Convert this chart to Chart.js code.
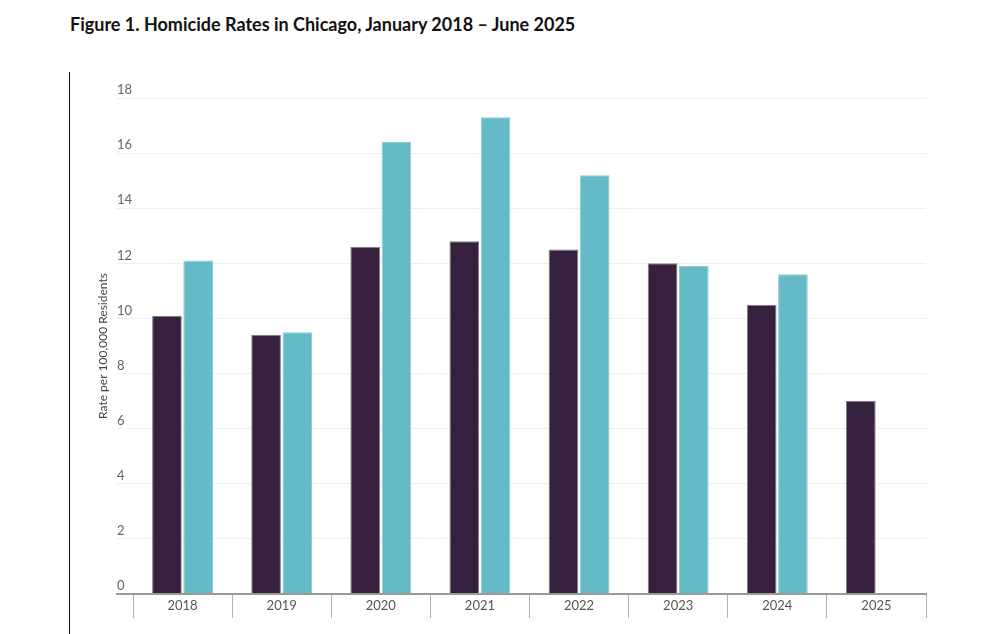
<!DOCTYPE html>
<html>
<head>
<meta charset="utf-8">
<script src="https://cdn.jsdelivr.net/npm/chart.js@4.4.1/dist/chart.umd.min.js"></script>
<style>
  html, body { margin: 0; padding: 0; background: #fff; }
  body { width: 992px; height: 634px; position: relative; overflow: hidden; font-family: Lato, sans-serif; }
  #title { position: absolute; left: 70px; top: 13px; font: bold 18px Lato, sans-serif; color: #111; white-space: nowrap; }
  #rule { position: absolute; left: 69px; top: 72px; width: 0; height: 562px; border-left: 1.5px solid #111; }
  #wrap { position: absolute; left: 0; top: 0; width: 992px; height: 634px; }
</style>
</head>
<body>
<div id="title">Figure 1. Homicide Rates in Chicago, January 2018 – June 2025</div>
<div id="rule"></div>
<div id="wrap"><canvas id="c" width="992" height="634"></canvas></div>
<script>
const categories = ['2018', '2019', '2020', '2021', '2022', '2023', '2024', '2025'];
const seriesA = [10.1, 9.4, 12.6, 12.8, 12.5, 12.0, 10.5, 7.0];
const seriesB = [12.1, 9.5, 16.4, 17.3, 15.2, 11.9, 11.6, null];
const yTicks = [0, 2, 4, 6, 8, 10, 12, 14, 16, 18];
const yTitle = 'Rate per 100,000 Residents';

const ctx = document.getElementById('c');
new Chart(ctx, {
  type: 'bar',
  data: {
    labels: categories,
    datasets: [
      { label: 'A', data: seriesA, backgroundColor: '#37203d', borderColor: '#857a8a', borderWidth: 1, categoryPercentage: 0.63, barPercentage: 0.95 },
      { label: 'B', data: seriesB, backgroundColor: '#65bac8', borderColor: '#8ccbd6', borderWidth: 1, categoryPercentage: 0.63, barPercentage: 0.95 }
    ]
  },
  options: {
    responsive: false,
    animation: false,
    devicePixelRatio: 1,
    layout: { padding: { left: 92, right: 66, top: 98, bottom: 10 } },
    plugins: { legend: { display: false }, tooltip: { enabled: false }, title: { display: false } },
    scales: {
      x: {
        grid: { display: true, drawOnChartArea: false, drawTicks: true, tickLength: 24, color: '#b0b0b0', lineWidth: 1, offset: true },
        border: { display: true, color: '#9a9a9a', width: 2 },
        ticks: { padding: -20, color: '#555', font: { family: 'Lato', size: 13 } },
        afterFit: (s) => { s.height = 30; }
      },
      y: {
        min: 0, max: 18,
        afterBuildTicks: (s) => { s.ticks = yTicks.map(v => ({ value: v })); },
        grid: {
          drawTicks: true, tickLength: 17,
          color: (c) => c.tick && c.tick.value === 0 ? '#9a9a9a' : '#efefef',
          lineWidth: (c) => c.tick && c.tick.value === 0 ? 2 : 1
        },
        border: { display: false },
        ticks: { mirror: true, padding: -16, labelOffset: -8, color: '#666', font: { family: 'Lato', size: 13 } },
        title: { display: true, text: yTitle, color: '#444', font: { family: 'Lato', size: 12 } },
        afterFit: (s) => { s.width = 41; }
      }
    }
  }
});
</script>
</body>
</html>
